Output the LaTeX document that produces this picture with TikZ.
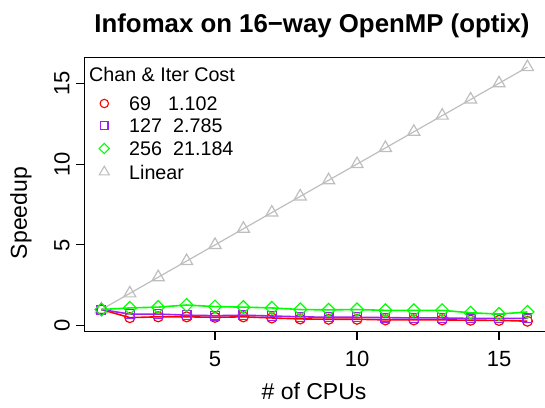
\documentclass[tikz,border=0pt]{standalone}
\usepackage{fontspec}
\setmainfont{Liberation Sans}
\usetikzlibrary{plotmarks}
\definecolor{rred}{HTML}{FF0000}
\definecolor{rpurple}{HTML}{A020F0}
\definecolor{rgreen}{HTML}{00FF00}
\definecolor{rgray}{HTML}{BEBEBE}
\begin{document}
\begin{tikzpicture}[x=1pt,y=1pt,
  series/.style={line width=1.6pt},
  markline/.style={line width=1.2pt},
  circmk/.style={mark=o, mark size=5pt, mark options={solid, line width=1.2pt}},
  sqmk/.style={mark=square, mark size=4.4pt, mark options={solid, line width=1.2pt}},
  dmmk/.style={mark=square, mark size=4.6pt, mark options={solid, rotate=45, line width=1.2pt}},
  trmk/.style={mark=triangle, mark size=7pt, mark options={solid, line width=1.2pt}},
  lgcirc/.style={mark=o, mark size=4.2pt, mark options={solid, line width=1.1pt}},
  lgsq/.style={mark=square, mark size=3.7pt, mark options={solid, line width=1.1pt}},
  lgdm/.style={mark=square, mark size=3.6pt, mark options={solid, rotate=45, line width=1.1pt}},
  lgtr/.style={mark=triangle, mark size=5.8pt, mark options={solid, line width=1.1pt}},
  ticklbl/.style={font=\fontsize{22}{22}\selectfont, inner sep=0pt},
  axlbl/.style={font=\fontsize{23}{23}\selectfont, inner sep=0pt},
  lgtxt/.style={font=\fontsize{19.7}{19.7}\selectfont, inner sep=0pt, anchor=west}]
\useasboundingbox (0,0) rectangle (545,407);
\begin{scope}
\clip (0,0) rectangle (545,407);

% title
\node[font=\fontsize{25.8}{25.8}\selectfont\bfseries, inner sep=0pt] (title) at (312,381) {Infomax on 16−way OpenMP (optix)};

% data region: x in CPUs, y in speedup
\begin{scope}[shift={(73,81.3)}, x=28.4pt, y=16.16pt]
  % linear reference
  \draw[rgray, markline] plot[trmk] coordinates {(1,1) (2,2) (3,3) (4,4) (5,5) (6,6) (7,7) (8,8) (9,9) (10,10) (11,11) (12,12) (13,13) (14,14) (15,15) (16,16)};
  % 69 channels
  \draw[rred, series] plot coordinates {(1,1.0) (2,0.50) (3,0.55) (4,0.55) (5,0.52) (6,0.55) (7,0.48) (8,0.42) (9,0.40) (10,0.40) (11,0.36) (12,0.36) (13,0.36) (14,0.34) (15,0.33) (16,0.28)};
  \draw[rred] plot[only marks, circmk] coordinates {(1,1.0) (2,0.50) (3,0.55) (4,0.55) (5,0.52) (6,0.55) (7,0.48) (8,0.42) (9,0.40) (10,0.40) (11,0.36) (12,0.36) (13,0.36) (14,0.34) (15,0.33) (16,0.28)};
  % 127 channels
  \draw[rpurple, series] plot coordinates {(1,1.0) (2,0.72) (3,0.72) (4,0.65) (5,0.62) (6,0.65) (7,0.60) (8,0.55) (9,0.52) (10,0.52) (11,0.50) (12,0.48) (13,0.48) (14,0.45) (15,0.45) (16,0.45)};
  \draw[rpurple] plot[only marks, sqmk] coordinates {(1,1.0) (2,0.72) (3,0.72) (4,0.65) (5,0.62) (6,0.65) (7,0.60) (8,0.55) (9,0.52) (10,0.52) (11,0.50) (12,0.48) (13,0.48) (14,0.45) (15,0.45) (16,0.45)};
  % 256 channels
  \draw[rgreen, series] plot coordinates {(1,1.0) (2,1.10) (3,1.15) (4,1.28) (5,1.18) (6,1.15) (7,1.10) (8,1.00) (9,0.98) (10,1.00) (11,0.95) (12,0.95) (13,0.95) (14,0.80) (15,0.72) (16,0.85)};
  \draw[rgreen] plot[only marks, dmmk] coordinates {(1,1.0) (2,1.10) (3,1.15) (4,1.28) (5,1.18) (6,1.15) (7,1.10) (8,1.00) (9,0.98) (10,1.00) (11,0.95) (12,0.95) (13,0.95) (14,0.80) (15,0.72) (16,0.85)};
\end{scope}

% frame
\draw[line width=1.1pt] (84.3,75.5) rectangle (548,349.7);

% x axis ticks and labels
\foreach \v/\px in {5/215, 10/357, 15/499} {
  \draw[line width=1.1pt] (\px,75.5) -- (\px,67);
  \node[ticklbl] (xt\v) at (\px,48) {\v};
}
% y axis ticks and labels
\foreach \v/\py in {0/81.3, 5/162.1, 10/242.9, 15/323.7} {
  \draw[line width=1.1pt] (84.3,\py) -- (76,\py);
  \node[ticklbl, rotate=90] (yt\v) at (62,\py) {\v};
}

\node[axlbl] (xlab) at (314,16) {\# of CPUs};
\node[axlbl, rotate=90] (ylab) at (21,194) {Speedup};

% legend
\node[lgtxt] (lgtitle) at (89,333) {Chan \& Iter Cost};
\draw[rred] plot[only marks, lgcirc] coordinates {(104.3,303.5)};
\draw[rpurple] plot[only marks, lgsq] coordinates {(104.3,281.5)};
\draw[rgreen] plot[only marks, lgdm] coordinates {(104.3,258.5)};
\draw[rgray] plot[only marks, lgtr] coordinates {(104.3,235.0)};
\node[lgtxt] (lg1a) at (129,303.5) {69};
\node[lgtxt] (lg1b) at (168,303.5) {1.102};
\node[lgtxt] (lg2a) at (129,281.5) {127};
\node[lgtxt] (lg2b) at (173,281.5) {2.785};
\node[lgtxt] (lg3a) at (129,258.5) {256};
\node[lgtxt] (lg3b) at (173,258.5) {21.184};
\node[lgtxt] (lg4) at (129,235.0) {Linear};
\end{scope}
\end{tikzpicture}
\end{document}
